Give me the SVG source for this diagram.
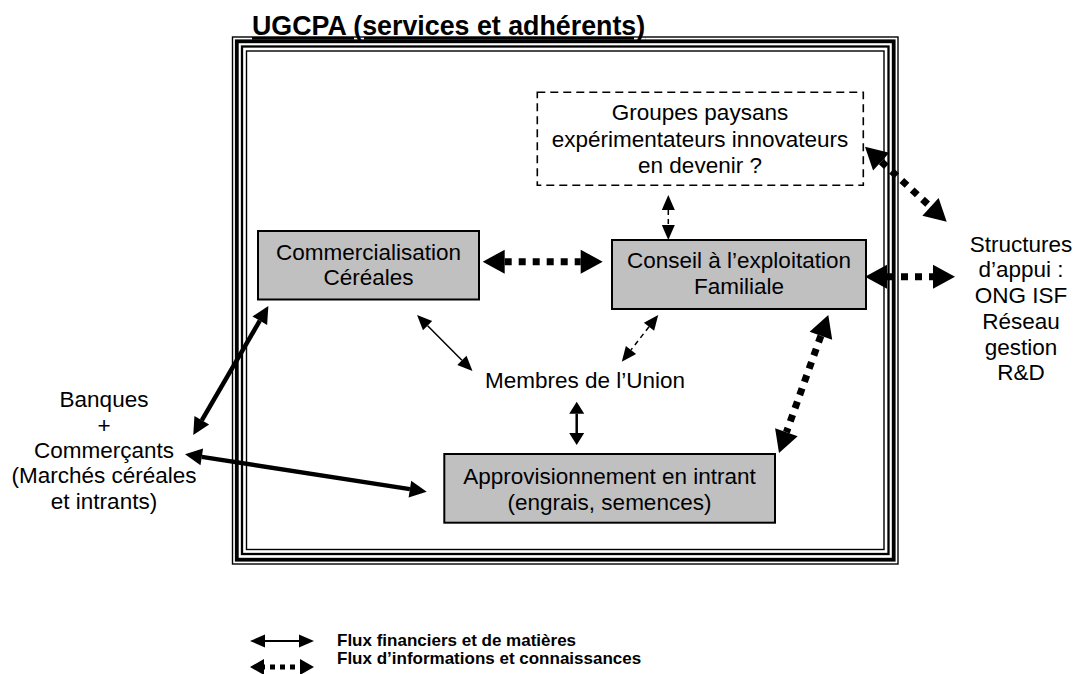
<svg xmlns="http://www.w3.org/2000/svg" width="1074" height="674" viewBox="0 0 1074 674">
<style>
.t{font-family:"Liberation Sans",Arial,sans-serif;font-size:22.5px;text-anchor:middle;fill:#000}
.ttl{font-family:"Liberation Sans",Arial,sans-serif;font-size:26.8px;font-weight:bold;text-decoration:underline;fill:#000}
.leg{font-family:"Liberation Sans",Arial,sans-serif;font-size:17px;font-weight:bold;fill:#000}
.box{fill:#c0c0c0;stroke:#000;stroke-width:2}
.dbox{fill:#fff;stroke:#000;stroke-width:1.6;stroke-dasharray:8 5}
.fr{fill:none;stroke:#000}
.thin{fill:none;stroke:#000;stroke-width:1.5}
.tdash{fill:none;stroke:#000;stroke-width:1.5;stroke-dasharray:5 4}
.med{fill:none;stroke:#000;stroke-width:2.5}
.heavy{fill:none;stroke:#000;stroke-width:4.5}
.dot{fill:none;stroke:#000;stroke-width:7;stroke-dasharray:7 7}
.legsolid{fill:none;stroke:#000;stroke-width:2}
.legdot{fill:none;stroke:#000;stroke-width:5;stroke-dasharray:5 5}
</style>
<defs>
<marker id="hs" markerUnits="userSpaceOnUse" markerWidth="16" markerHeight="14" refX="0" refY="0" orient="auto-start-reverse" style="overflow:visible"><path d="M0,-6.5 L15,0 L0,6.5 z" fill="#000"/></marker>
<marker id="hm" markerUnits="userSpaceOnUse" markerWidth="14" markerHeight="16" refX="0" refY="0" orient="auto-start-reverse" style="overflow:visible"><path d="M0,-7.5 L12,0 L0,7.5 z" fill="#000"/></marker>
<marker id="hl" markerUnits="userSpaceOnUse" markerWidth="18" markerHeight="18" refX="0" refY="0" orient="auto-start-reverse" style="overflow:visible"><path d="M0,-8.5 L17,0 L0,8.5 z" fill="#000"/></marker>
<marker id="hd" markerUnits="userSpaceOnUse" markerWidth="24" markerHeight="26" refX="0" refY="0" orient="auto-start-reverse" style="overflow:visible"><path d="M0,-12 L22,0 L0,12 z" fill="#000"/></marker>
<marker id="hleg" markerUnits="userSpaceOnUse" markerWidth="16" markerHeight="14" refX="0" refY="0" orient="auto-start-reverse" style="overflow:visible"><path d="M0,-6.5 L15,0 L0,6.5 z" fill="#000"/></marker>
<marker id="hleg2" markerUnits="userSpaceOnUse" markerWidth="16" markerHeight="18" refX="0" refY="0" orient="auto-start-reverse" style="overflow:visible"><path d="M0,-8 L14,0 L0,8 z" fill="#000"/></marker>
</defs>
<rect width="1074" height="674" fill="#fff"/>

<g id="frame">
<rect class="fr" x="232.5" y="37" width="665.5" height="527" stroke-width="1.4"/>
<rect class="fr" x="236.8" y="41.3" width="656.9" height="518.4" stroke-width="3.8"/>
<rect class="fr" x="242" y="46.5" width="646.5" height="507.5" stroke-width="2.3"/>
<rect class="fr" x="246.5" y="51" width="637.5" height="498.5" stroke-width="1.4"/>
</g>
<g id="title">
<text class="ttl" x="252" y="35">UGCPA (services et adhérents)</text>
</g>

<g id="groupes">
<rect class="dbox" x="537.3" y="92.3" width="326" height="93"/>
<text class="t" x="700" y="120">Groupes paysans</text>
<text class="t" x="700" y="146.5">expérimentateurs innovateurs</text>
<text class="t" x="700" y="172.5">en devenir ?</text>
</g>
<g id="commercialisation">
<rect class="box" x="258" y="231" width="221" height="68.5"/>
<text class="t" x="368.5" y="259.5">Commercialisation</text>
<text class="t" x="368.5" y="285">Céréales</text>
</g>
<g id="conseil">
<rect class="box" x="612" y="240" width="254" height="69"/>
<text class="t" x="739" y="268">Conseil à l’exploitation</text>
<text class="t" x="739" y="294">Familiale</text>
</g>
<g id="membres">
<text class="t" x="585" y="388">Membres de l’Union</text>
</g>
<g id="approvisionnement">
<rect class="box" x="444.3" y="454" width="330.7" height="68.7"/>
<text class="t" x="609.5" y="483.5">Approvisionnement en intrant</text>
<text class="t" x="609.5" y="510">(engrais, semences)</text>
</g>
<g id="banques">
<text class="t" x="104" y="407">Banques</text>
<text class="t" x="104" y="432.5">+</text>
<text class="t" x="104" y="458">Commerçants</text>
<text class="t" x="104" y="483.3">(Marchés céréales</text>
<text class="t" x="104" y="508.7">et intrants)</text>
</g>
<g id="structures">
<text class="t" x="1021" y="251.5">Structures</text>
<text class="t" x="1021" y="277.2">d’appui :</text>
<text class="t" x="1021" y="303">ONG ISF</text>
<text class="t" x="1021" y="328.7">Réseau</text>
<text class="t" x="1021" y="354.5">gestion</text>
<text class="t" x="1021" y="380.2">R&amp;D</text>
</g>

<g id="connectors">
<line class="dot" x1="504.7" y1="261.7" x2="580.7" y2="261.7" marker-start="url(#hd)" marker-end="url(#hd)"/>
<line class="tdash" x1="668.3" y1="210" x2="668.3" y2="225" marker-start="url(#hs)" marker-end="url(#hs)"/>
<line class="tdash" x1="649" y1="326.8" x2="631" y2="349.9" marker-start="url(#hs)" marker-end="url(#hs)"/>
<line class="thin" x1="427.6" y1="325.7" x2="461.9" y2="360.3" marker-start="url(#hs)" marker-end="url(#hs)"/>
<line class="med" x1="576.7" y1="413.7" x2="576.7" y2="433" marker-start="url(#hm)" marker-end="url(#hm)"/>
<line class="dot" x1="820.9" y1="335.7" x2="786.4" y2="432.3" marker-start="url(#hd)" marker-end="url(#hd)"/>
<line class="dot" x1="881.2" y1="161.6" x2="930.5" y2="206.8" marker-start="url(#hd)" marker-end="url(#hd)"/>
<line class="dot" x1="887" y1="276.7" x2="933" y2="276.7" marker-start="url(#hd)" marker-end="url(#hd)"/>
<line class="heavy" x1="259.8" y1="320.7" x2="201.8" y2="420.3" marker-start="url(#hl)" marker-end="url(#hl)"/>
<line class="heavy" x1="201.8" y1="456.9" x2="409.9" y2="489.1" marker-start="url(#hl)" marker-end="url(#hl)"/>
</g>

<g id="legend">
<line class="legsolid" x1="265" y1="641" x2="299" y2="641" marker-start="url(#hleg)" marker-end="url(#hleg)"/>
<line class="legdot" x1="264" y1="667" x2="300" y2="667" stroke-dashoffset="-6" marker-start="url(#hleg2)" marker-end="url(#hleg2)"/>
<text class="leg" x="337" y="646">Flux financiers et de matières</text>
<text class="leg" x="337" y="664">Flux d’informations et connaissances</text>
</g>
</svg>
